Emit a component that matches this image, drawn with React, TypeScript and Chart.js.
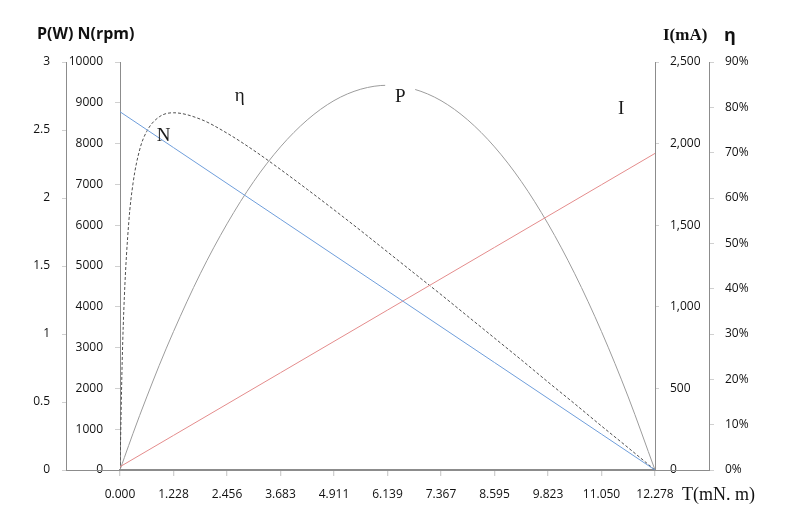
import React, { useEffect, useRef } from 'react';
import { Chart, registerables } from 'chart.js';

Chart.register(...registerables);

// Torque axis (mN.m)
const torqueTicks = [0, 1.2278, 2.4556, 3.6834, 4.9112, 6.139, 7.3668, 8.5946, 9.8224, 11.0502, 12.278];
const torqueTickLabels = ['0.000', '1.228', '2.456', '3.683', '4.911', '6.139', '7.367', '8.595', '9.823', '11.050', '12.278'];

// Linear curves sampled at the torque ticks
const speedRpm = [8780, 7902, 7024, 6146, 5268, 4390, 3512, 2634, 1756, 878, 0];
const currentMa = [20, 212, 404, 596, 788, 980, 1172, 1364, 1556, 1748, 1940];

// Curved series sampled more densely
const torqueFine = [0, 0.05, 0.1, 0.2, 0.3, 0.45, 0.614, 0.9, 1.228, 1.842, 2.456, 3.07, 3.683, 4.297, 4.911, 5.525, 6.139, 6.753, 7.367, 7.981, 8.595, 9.209, 9.823, 10.436, 11.05, 11.664, 12.278];
const powerW = [0, 0.046, 0.091, 0.181, 0.27, 0.4, 0.537, 0.769, 1.018, 1.443, 1.81, 2.122, 2.376, 2.574, 2.716, 2.8, 2.829, 2.8, 2.716, 2.574, 2.376, 2.122, 1.81, 1.443, 1.018, 0.537, 0];
const efficiencyPct = [0, 23.8, 38.2, 54.5, 63.3, 70.6, 74.7, 77.9, 78.8, 77.4, 74.3, 70.5, 66.3, 61.9, 57.4, 52.8, 48.1, 43.4, 38.7, 33.9, 29.1, 24.3, 19.4, 14.6, 9.7, 4.9, 0];

// In-plot curve labels (anchored in data units)
const curveLabelText = ['η', 'N', 'P', 'I'];
const curveLabelTorque = [2.75, 1.0, 6.43, 11.5];
const curveLabelValue = [81.5, 8064, 2.706, 2181];
const curveLabelAxis = ['yEta', 'yN', 'yP', 'yI'];
const curveLabelMask = [false, false, true, false];

const tickFont = { family: "'Open Sans', sans-serif", size: 12 };
const tickColor = '#111';
const axisColor = '#8c8c8c';
const tickMarkColor = '#d0d0d0';

const textPlugin = {
  id: 'motorTexts',
  afterDraw(chart: any) {
    const ctx = chart.ctx;
    const s = chart.scales;
    ctx.save();
    // thin baseline joining the outer axes
    const yb = Math.round(s.yP.getPixelForValue(0)) + 0.5;
    ctx.strokeStyle = axisColor;
    ctx.lineWidth = 1;
    ctx.beginPath();
    ctx.moveTo(s.yP.right, yb);
    ctx.lineTo(s.yEta.left, yb);
    ctx.stroke();

    // curve labels
    ctx.textAlign = 'center';
    ctx.textBaseline = 'alphabetic';
    for (let i = 0; i < curveLabelText.length; i++) {
      const px = s.x.getPixelForValue(curveLabelTorque[i]);
      const py = s[curveLabelAxis[i]].getPixelForValue(curveLabelValue[i]);
      if (curveLabelMask[i]) {
        ctx.fillStyle = '#fff';
        ctx.fillRect(px - 15, py - 20, 30, 28);
      }
      ctx.fillStyle = '#1a1a1a';
      ctx.font = "19px 'Liberation Serif', serif";
      ctx.fillText(curveLabelText[i], px, py);
    }

    // axis titles
    ctx.textAlign = 'left';
    ctx.fillStyle = '#111';
    ctx.font = "bold 16px 'Open Sans', sans-serif";
    ctx.fillText('P(W) N(rpm)', 37, 39);
    ctx.font = "bold 17px 'Liberation Serif', serif";
    ctx.fillText('I(mA)', 663, 40);
    ctx.font = "bold 18px 'Open Sans', sans-serif";
    ctx.fillText('η', 724, 41);
    ctx.font = "18px 'Liberation Serif', serif";
    ctx.fillText('T(mN. m)', 682, 500);
    ctx.restore();
  },
};

function yAxis(position: string, weight: number, width: number, min: number, max: number, step: number, tl: number, pad: number, fmt: (v: number) => string) {
  return {
    type: 'linear',
    position,
    weight,
    min,
    max,
    afterFit: (sc: any) => { sc.width = width; },
    ticks: { stepSize: step, font: tickFont, color: tickColor, padding: pad, callback: (v: any) => fmt(Number(v)) },
    grid: { drawOnChartArea: false, drawTicks: true, tickLength: tl, color: tickMarkColor, tickColor: tickMarkColor },
    border: { display: true, color: axisColor, width: 1 },
  };
}

export default function App() {
  const ref = useRef<HTMLCanvasElement | null>(null);
  useEffect(() => {
    if (!ref.current) return;
    const chart = new Chart(ref.current, {
      type: 'line',
      data: {
        datasets: [
          {
            label: 'N',
            data: torqueTicks.map((t, i) => ({ x: t, y: speedRpm[i] })),
            yAxisID: 'yN',
            borderColor: '#6f9edb',
            borderWidth: 1,
            pointRadius: 0,
            tension: 0,
          },
          {
            label: 'I',
            data: torqueTicks.map((t, i) => ({ x: t, y: currentMa[i] })),
            yAxisID: 'yI',
            borderColor: '#e48c8c',
            borderWidth: 1,
            pointRadius: 0,
            tension: 0,
          },
          {
            label: 'P',
            data: torqueFine.map((t, i) => ({ x: t, y: powerW[i] })),
            yAxisID: 'yP',
            borderColor: '#9c9c9c',
            borderWidth: 1,
            pointRadius: 0,
            cubicInterpolationMode: 'monotone',
          },
          {
            label: 'η',
            data: torqueFine.map((t, i) => ({ x: t, y: efficiencyPct[i] })),
            yAxisID: 'yEta',
            borderColor: '#505050',
            borderWidth: 1,
            borderDash: [3, 2],
            pointRadius: 0,
            cubicInterpolationMode: 'monotone',
          },
        ],
      } as any,
      options: {
        responsive: false,
        animation: false,
        devicePixelRatio: 1,
        layout: { padding: { top: 62, left: 0, right: 0, bottom: 0 } },
        plugins: { legend: { display: false }, tooltip: { enabled: false }, title: { display: false } },
        scales: {
          x: {
            type: 'linear',
            position: 'bottom',
            min: 0,
            max: 12.278,
            afterBuildTicks: (sc: any) => { sc.ticks = torqueTicks.map((v) => ({ value: v })); },
            afterFit: (sc: any) => { sc.height = 51; },
            ticks: { autoSkip: false, maxRotation: 0, minRotation: 0, font: tickFont, color: tickColor, padding: 11, callback: (_v: any, i: number) => torqueTickLabels[i] },
            grid: { drawOnChartArea: false, drawTicks: true, tickLength: 6, color: tickMarkColor, tickColor: tickMarkColor, lineWidth: 1.3 },
            border: { display: true, color: axisColor, width: 2 },
          },
          yP: yAxis('left', 2, 66, 0, 3, 0.5, 4, 12, (v) => String(v)),
          yN: yAxis('left', 1, 54, 0, 10000, 1000, 5, 12, (v) => String(v)),
          yI: yAxis('right', 1, 54, 0, 2500, 500, 4, 11, (v) => v.toLocaleString('en-US')),
          yEta: yAxis('right', 2, 88, 0, 90, 10, 5, 11, (v) => v + '%'),
        } as any,
      },
      plugins: [textPlugin],
    } as any);
    return () => chart.destroy();
  }, []);
  return (
    <div style={{ position: 'fixed', left: 0, top: 0, width: 797, height: 521, background: '#fff' }}>
      <canvas ref={ref} width={797} height={521} style={{ display: 'block' }} />
    </div>
  );
}
